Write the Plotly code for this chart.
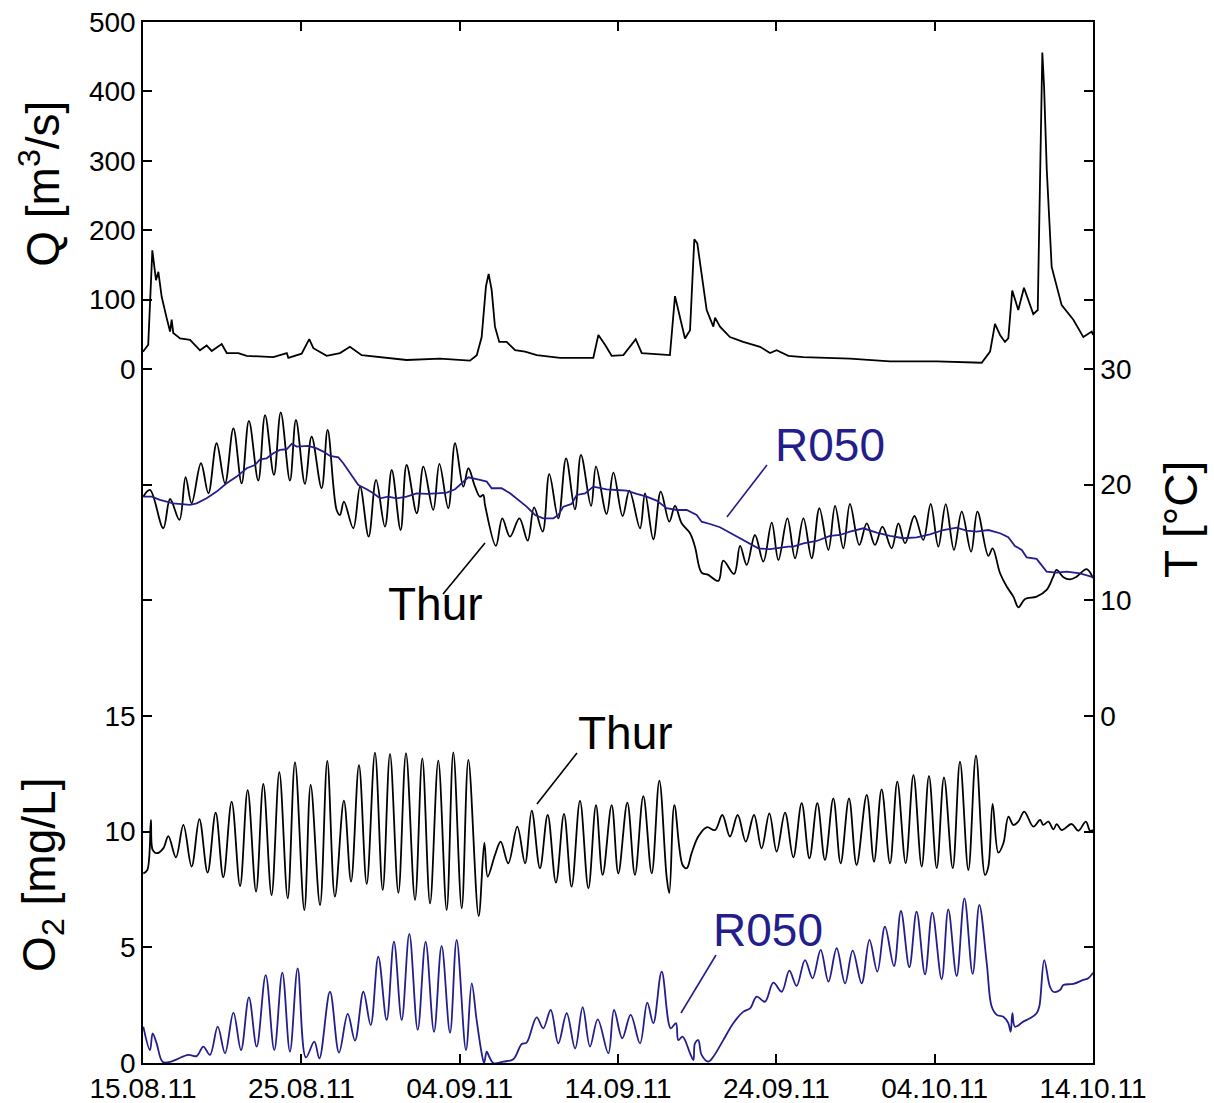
import pandas as pd
import plotly.graph_objects as go

# ---------------------------------------------------------------------------
# Data (days since 15.08.2011 00:00, value)
# ---------------------------------------------------------------------------
start_date = pd.Timestamp("2011-08-15")

# discharge Thur [m3/s]
q_thur = [
    (0.00, 25), (0.33, 35), (0.59, 171), (0.82, 128), (0.97, 140), (1.18, 104),
    (1.50, 73), (1.71, 54), (1.81, 71), (1.91, 52), (2.34, 44), (2.97, 42),
    (3.60, 27), (4.02, 34), (4.34, 26), (4.97, 36), (5.29, 23), (6.02, 23),
    (6.55, 19), (8.23, 17), (9.08, 23), (9.18, 16), (10.02, 22), (10.50, 43),
    (10.76, 30), (11.60, 19), (12.44, 23), (13.07, 32), (13.81, 20), (14.55, 18),
    (16.65, 13), (18.76, 15), (20.44, 13), (20.65, 12), (21.08, 20), (21.39, 46),
    (21.66, 119), (21.83, 137), (22.02, 114), (22.23, 61), (22.50, 39), (22.97, 39),
    (23.50, 27), (24.13, 25), (24.87, 20), (26.34, 16), (28.44, 16), (28.76, 49),
    (29.18, 35), (29.60, 19), (30.34, 20), (31.12, 43), (31.50, 23), (33.28, 20),
    (33.60, 105), (34.23, 44), (34.55, 56), (34.82, 187), (35.01, 181), (35.60, 85),
    (36.02, 61), (36.13, 74), (36.44, 61), (37.07, 46), (37.91, 39), (38.97, 32),
    (39.60, 23), (40.02, 27), (40.76, 19), (41.70, 17), (44.65, 15), (47.18, 11),
    (50.13, 11), (52.97, 9), (53.50, 25), (53.81, 65), (54.13, 49), (54.44, 39),
    (54.65, 44), (54.90, 113), (55.28, 85), (55.64, 117), (56.23, 79), (56.51, 85),
    (56.61, 215), (56.80, 456), (56.91, 407), (57.08, 287), (57.39, 147), (58.02, 92),
    (58.76, 71), (59.39, 46), (59.92, 54), (60.00, 49),
]

# water temperature Thur [degC]
t_thur = [
    (0.02, 18.96), (0.44, 19.54), (1.28, 16.23), (1.71, 18.76), (2.30, 16.95),
    (2.69, 20.64), (3.07, 18.39), (3.66, 21.85), (4.13, 19.25), (4.65, 23.58),
    (5.18, 20.12), (5.71, 24.87), (6.23, 20.12), (6.69, 25.51), (7.28, 20.35),
    (7.71, 26.02), (8.27, 20.84), (8.70, 26.25), (9.28, 20.35), (9.66, 25.59),
    (10.23, 20.06), (10.65, 24.15), (11.28, 19.69), (11.66, 24.73), (12.23, 17.81),
    (12.44, 17.38), (12.69, 18.53), (13.28, 16.23), (13.71, 19.83), (14.25, 15.51),
    (14.72, 20.41), (15.28, 16.37), (15.71, 21.27), (16.27, 16.08), (16.65, 21.70),
    (17.29, 17.53), (17.71, 21.56), (18.33, 17.81), (18.72, 21.79), (19.28, 17.96),
    (19.71, 23.58), (20.23, 19.83), (20.55, 21.42), (20.97, 19.83), (21.28, 18.96),
    (21.49, 19.11), (21.60, 18.25), (22.29, 14.70), (22.69, 17.09), (23.18, 15.51),
    (23.77, 17.09), (24.30, 15.16), (24.70, 18.04), (25.24, 15.94), (25.66, 20.92),
    (26.23, 17.09), (26.72, 22.28), (27.28, 17.87), (27.66, 22.57), (28.30, 18.16),
    (28.61, 21.56), (29.28, 17.47), (29.71, 21.04), (30.29, 17.29), (30.72, 19.48),
    (31.39, 16.23), (31.71, 19.25), (32.23, 15.28), (32.70, 19.40), (33.24, 16.80),
    (33.60, 18.16), (34.02, 16.66), (34.55, 15.80), (34.86, 14.64), (35.28, 12.40),
    (35.70, 12.20), (36.34, 11.68), (36.65, 13.43), (37.33, 12.28), (37.71, 14.70),
    (38.13, 13.06), (38.65, 15.65), (39.18, 13.35), (39.71, 16.72), (40.13, 13.49),
    (40.70, 17.09), (41.18, 13.64), (41.71, 17.09), (42.23, 13.64), (42.72, 17.96),
    (43.29, 14.36), (43.71, 18.16), (44.23, 14.50), (44.65, 18.33), (45.24, 14.79),
    (45.71, 16.66), (46.23, 14.79), (46.70, 16.37), (47.28, 14.50), (47.71, 16.66),
    (48.13, 14.93), (48.72, 17.29), (49.28, 15.22), (49.75, 18.33), (50.23, 14.64),
    (50.70, 18.31), (51.22, 14.36), (51.71, 17.67), (52.30, 14.21), (52.70, 17.67),
    (53.39, 13.84), (53.66, 14.50), (54.13, 12.34), (54.55, 11.19), (54.97, 10.32),
    (55.29, 9.40), (55.71, 10.12), (56.44, 10.32), (57.07, 10.90), (57.49, 12.05),
    (57.70, 12.63), (58.13, 12.00), (58.55, 11.82), (58.97, 12.05), (59.60, 12.69),
    (60.00, 11.91),
]

# water temperature R050 [degC]
t_r050 = [
    (0.02, 18.96), (0.55, 18.96), (1.07, 18.68), (1.91, 18.39), (2.97, 18.25),
    (3.39, 18.39), (4.02, 18.82), (4.65, 19.40), (5.28, 20.12), (5.92, 20.70),
    (6.55, 21.42), (7.07, 21.70), (7.39, 22.19), (7.81, 22.28), (8.23, 22.71),
    (8.65, 23.00), (9.07, 23.06), (9.39, 23.52), (9.71, 23.29), (10.13, 23.29),
    (10.44, 23.35), (10.97, 23.14), (11.39, 22.86), (11.81, 22.48), (12.34, 22.36),
    (12.65, 21.85), (13.07, 20.98), (13.60, 19.97), (14.13, 19.60), (14.55, 19.25),
    (14.97, 18.82), (15.49, 18.96), (16.02, 18.82), (16.65, 18.96), (17.28, 19.25),
    (17.92, 19.20), (18.55, 19.25), (19.18, 19.31), (19.71, 19.60), (20.23, 20.26),
    (20.55, 20.64), (21.28, 20.41), (21.71, 20.26), (22.02, 19.69), (22.65, 19.69),
    (23.18, 19.25), (23.71, 18.68), (24.23, 18.10), (24.76, 17.38), (25.28, 17.09),
    (25.92, 17.09), (26.23, 17.38), (26.55, 18.10), (27.07, 18.33), (27.39, 19.11),
    (27.92, 19.25), (28.44, 19.83), (28.86, 19.69), (29.28, 19.60), (29.92, 19.54),
    (30.55, 19.48), (31.18, 19.20), (31.81, 18.96), (32.44, 18.62), (33.07, 17.96),
    (33.71, 17.81), (34.34, 17.81), (34.97, 17.38), (35.28, 16.80), (35.81, 16.60),
    (36.44, 16.32), (37.07, 15.85), (37.71, 15.37), (38.34, 14.87), (38.86, 14.50),
    (39.60, 14.42), (40.23, 14.56), (40.76, 14.64), (41.07, 14.64), (41.71, 14.93),
    (42.55, 15.13), (43.39, 15.57), (44.02, 15.65), (44.65, 15.94), (45.49, 16.23),
    (46.34, 15.85), (47.18, 15.57), (48.02, 15.37), (48.86, 15.45), (49.70, 15.71),
    (50.55, 16.08), (51.39, 16.28), (52.02, 16.03), (52.65, 15.94), (53.39, 16.08),
    (54.13, 15.80), (54.65, 15.45), (55.07, 14.70), (55.50, 14.36), (55.81, 13.72),
    (56.44, 13.58), (56.76, 13.06), (57.07, 12.48), (57.70, 12.40), (58.34, 12.48),
    (59.18, 12.34), (59.60, 12.20), (60.00, 12.00),
]

# dissolved oxygen Thur [mg/L]
o2_thur = [
    (0.02, 8.20), (0.27, 8.34), (0.50, 10.51), (0.61, 9.21), (0.86, 9.07),
    (1.28, 9.28), (1.60, 9.81), (2.08, 8.89), (2.55, 10.29), (3.07, 8.49),
    (3.56, 10.54), (4.08, 8.23), (4.59, 10.82), (5.07, 8.03), (5.60, 11.30),
    (6.13, 7.65), (6.61, 11.80), (7.14, 7.41), (7.60, 12.06), (8.12, 7.26),
    (8.61, 12.57), (9.14, 7.12), (9.60, 13.00), (10.19, 6.61), (10.59, 12.02),
    (11.18, 6.83), (11.64, 13.06), (12.12, 7.19), (12.69, 11.34), (13.14, 7.84),
    (13.64, 12.88), (14.13, 7.74), (14.65, 13.42), (15.14, 7.48), (15.60, 13.36),
    (16.13, 7.36), (16.61, 13.39), (17.18, 7.05), (17.64, 13.17), (18.13, 6.90),
    (18.65, 13.07), (19.18, 6.61), (19.60, 13.43), (20.13, 6.69), (20.55, 13.10),
    (21.20, 6.35), (21.56, 9.53), (21.77, 8.06), (22.23, 8.99), (22.59, 9.57),
    (23.07, 8.63), (23.64, 10.22), (24.13, 8.63), (24.55, 10.91), (25.07, 8.42),
    (25.56, 10.72), (26.08, 7.80), (26.59, 10.77), (27.07, 7.62), (27.60, 11.34),
    (28.13, 7.55), (28.61, 11.15), (29.03, 8.13), (29.60, 11.15), (30.02, 8.20),
    (30.59, 11.25), (31.07, 8.13), (31.60, 11.54), (32.13, 8.20), (32.61, 12.21),
    (33.07, 8.06), (33.24, 7.34), (33.56, 11.15), (34.08, 8.56), (34.34, 8.42),
    (34.65, 9.07), (35.07, 9.79), (35.60, 10.19), (36.13, 10.07), (36.59, 10.72),
    (37.07, 9.79), (37.56, 10.72), (38.07, 9.57), (38.59, 10.72), (39.07, 9.28),
    (39.56, 10.79), (40.02, 9.14), (40.55, 10.82), (41.07, 8.89), (41.60, 11.23),
    (42.09, 8.85), (42.59, 11.23), (43.07, 8.78), (43.60, 11.44), (44.06, 8.63),
    (44.59, 11.44), (45.07, 8.56), (45.71, 11.59), (46.17, 8.70), (46.65, 11.83),
    (47.18, 8.63), (47.64, 12.16), (48.17, 8.63), (48.66, 12.45), (49.18, 8.49),
    (49.64, 12.41), (50.13, 8.42), (50.59, 12.35), (51.14, 8.42), (51.60, 13.03),
    (52.13, 8.34), (52.61, 13.29), (53.18, 8.13), (53.39, 8.49), (53.66, 11.20),
    (54.02, 9.09), (54.34, 9.50), (54.66, 10.65), (54.97, 10.29), (55.28, 10.43),
    (55.66, 10.87), (56.23, 10.22), (56.66, 10.51), (56.86, 10.29), (57.18, 10.43),
    (57.50, 10.10), (57.71, 10.33), (58.02, 10.07), (58.65, 10.33), (59.07, 10.04),
    (59.55, 10.43), (59.81, 10.04), (60.00, 10.07),
]

# dissolved oxygen R050 [mg/L]
o2_r050 = [
    (0.02, 1.57), (0.44, 0.56), (0.61, 1.28), (0.86, 0.85), (1.24, 0.05),
    (1.71, 0.05), (2.13, 0.16), (2.86, 0.35), (3.39, 0.30), (3.81, 0.71),
    (4.23, 0.35), (4.72, 1.57), (5.18, 0.42), (5.71, 2.18), (6.19, 0.56),
    (6.69, 2.84), (7.18, 0.71), (7.75, 3.80), (8.29, 0.56), (8.80, 3.91),
    (9.28, 0.49), (9.77, 4.09), (10.29, 0.24), (10.82, 0.92), (11.14, 0.20),
    (11.81, 3.08), (12.38, 0.45), (12.93, 2.12), (13.39, 0.97), (13.92, 3.08),
    (14.38, 1.64), (14.86, 4.60), (15.39, 1.86), (15.85, 5.25), (16.34, 1.86),
    (16.82, 5.58), (17.35, 1.43), (17.85, 5.25), (18.38, 1.35), (18.86, 5.06),
    (19.39, 1.31), (19.81, 5.32), (20.40, 0.56), (20.76, 3.44), (21.07, 1.86),
    (21.39, 0.42), (21.54, 0.00), (21.71, 0.49), (21.87, 0.27), (22.13, 0.00),
    (22.76, 0.06), (23.39, 0.16), (23.92, 0.82), (24.23, 0.88), (24.86, 1.97),
    (25.28, 1.50), (25.75, 2.29), (26.23, 0.85), (26.76, 2.15), (27.29, 0.63),
    (27.77, 2.41), (28.23, 0.71), (28.72, 1.89), (29.39, 0.42), (29.75, 2.29),
    (30.27, 1.07), (30.80, 2.08), (31.39, 0.85), (31.85, 2.61), (32.23, 1.72),
    (32.76, 3.95), (33.33, 1.50), (33.66, 1.72), (33.81, 0.99), (34.08, 1.14),
    (34.55, 0.42), (34.76, 0.13), (34.86, 0.85), (35.07, 0.99), (35.28, 0.35),
    (35.70, 0.06), (36.02, 0.27), (36.65, 0.99), (37.28, 1.72), (37.92, 2.22),
    (38.34, 2.36), (38.76, 2.87), (39.28, 2.65), (39.81, 3.47), (40.34, 3.08),
    (40.82, 3.99), (41.28, 3.33), (41.81, 4.45), (42.29, 3.66), (42.80, 4.89),
    (43.29, 3.52), (43.81, 4.96), (44.34, 3.44), (44.82, 4.86), (45.39, 3.44),
    (45.88, 5.32), (46.38, 3.95), (46.86, 5.89), (47.43, 4.19), (47.87, 6.57),
    (48.40, 4.14), (48.86, 6.54), (49.39, 3.83), (49.85, 6.50), (50.44, 3.62),
    (50.86, 6.64), (51.39, 3.76), (51.88, 7.12), (52.40, 3.85), (52.82, 6.83),
    (53.29, 4.31), (53.60, 2.44), (53.92, 2.08), (54.34, 2.00), (54.65, 1.72),
    (54.80, 1.35), (54.91, 2.15), (55.07, 1.57), (55.60, 1.79), (56.02, 1.93),
    (56.44, 2.15), (56.61, 2.44), (56.92, 4.45), (57.28, 3.30), (57.49, 3.08),
    (57.92, 3.16), (58.13, 3.37), (58.76, 3.42), (59.39, 3.59), (59.70, 3.66),
    (60.00, 3.90),
]

# axis ticks
date_tick_days = [0, 10, 20, 30, 40, 50, 60]
date_tick_labels = ["15.08.11", "25.08.11", "04.09.11", "14.09.11",
                    "24.09.11", "04.10.11", "14.10.11"]
q_ticks = [0, 100, 200, 300, 400, 500]
t_ticks = [0, 10, 20, 30]
o2_ticks = [0, 5, 10, 15]

# ---------------------------------------------------------------------------
FONT = "Liberation Sans, Arial, Helvetica, sans-serif"
BLACK = "#000000"
BLUE = "#231e8c"
LW = 1.8


def to_date(day):
    return start_date + pd.Timedelta(days=day)


def split(series):
    return [to_date(d) for d, _ in series], [v for _, v in series]


fig = go.Figure()

x, y = split(q_thur)
fig.add_trace(go.Scatter(x=x, y=y, mode="lines", yaxis="y",
                         line=dict(color=BLACK, width=LW), name="Q Thur"))

x, y = split(t_thur)
fig.add_trace(go.Scatter(x=x, y=y, mode="lines", yaxis="y2",
                         line=dict(color=BLACK, width=LW, shape="spline", smoothing=1.0),
                         name="T Thur"))
x, y = split(t_r050)
fig.add_trace(go.Scatter(x=x, y=y, mode="lines", yaxis="y2",
                         line=dict(color=BLUE, width=LW), name="T R050"))

x, y = split(o2_thur)
fig.add_trace(go.Scatter(x=x, y=y, mode="lines", yaxis="y3",
                         line=dict(color=BLACK, width=LW, shape="spline", smoothing=1.0),
                         name="O2 Thur"))
x, y = split(o2_r050)
fig.add_trace(go.Scatter(x=x, y=y, mode="lines", yaxis="y3",
                         line=dict(color=BLUE, width=LW, shape="spline", smoothing=1.0),
                         name="O2 R050"))

axis_common = dict(
    showgrid=False, zeroline=False, showline=True, linecolor=BLACK, linewidth=1.5,
    mirror="ticks", ticks="inside", ticklen=9, tickwidth=1.5, tickcolor=BLACK,
    tickfont=dict(family=FONT, size=28, color=BLACK),
)

fig.update_layout(
    width=1214, height=1103,
    margin=dict(l=143, r=121, t=22, b=40, autoexpand=False),
    paper_bgcolor="white", plot_bgcolor="white",
    showlegend=False,
    font=dict(family=FONT, color=BLACK),
    xaxis=dict(
        type="date",
        range=[to_date(0), to_date(60)],
        tickvals=[to_date(d) for d in date_tick_days],
        ticktext=date_tick_labels,
        **axis_common,
    ),
    yaxis=dict(range=[-1000, 500], tickvals=q_ticks, side="left", **axis_common),
    yaxis2=dict(range=[-30, 60], tickvals=t_ticks, side="right",
                overlaying="y", anchor="x", **axis_common),
    yaxis3=dict(range=[0, 45], tickvals=o2_ticks, side="left",
                overlaying="y", anchor="x", **axis_common),
)

# axis titles, each centred on its own band
title_font = dict(family=FONT, size=46, color=BLACK)
for text, tx, ty in [("Q [m<sup>3</sup>/s]", -0.108, 0.845),
                     ("T [°C]", 1.092, 0.522),
                     ("O<sub>2</sub> [mg/L]", -0.106, 0.181)]:
    fig.add_annotation(text=text, xref="paper", yref="paper", x=tx, y=ty,
                       xanchor="center", yanchor="middle", textangle=-90,
                       showarrow=False, font=title_font)

# series labels with leader lines
label_font = 46
labels = [
    ("Thur", BLACK, "y2", 18.5, 9.7, (18.95, 10.55), (21.60, 14.96)),
    ("R050", BLUE, "y2", 43.4, 23.4, (36.88, 17.21), (39.41, 21.70)),
    ("Thur", BLACK, "y3", 30.5, 14.27, (24.88, 11.20), (27.41, 13.40)),
    ("R050", BLUE, "y3", 39.47, 5.75, (33.98, 2.16), (36.19, 4.67)),
]
for text, color, yref, tx, ty, p0, p1 in labels:
    fig.add_annotation(text=text, xref="x", yref=yref, x=to_date(tx), y=ty,
                       xanchor="center", yanchor="middle", showarrow=False,
                       font=dict(family=FONT, size=label_font, color=color))
    fig.add_shape(type="line", xref="x", yref=yref,
                  x0=to_date(p0[0]), y0=p0[1], x1=to_date(p1[0]), y1=p1[1],
                  line=dict(color=color, width=1.6))

fig.write_html("out.html")
